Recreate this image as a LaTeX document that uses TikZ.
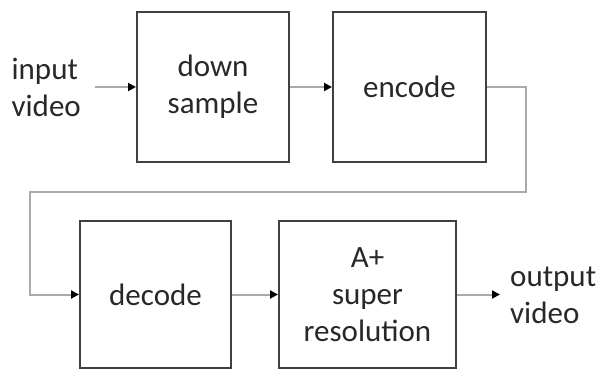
\documentclass[tikz,border=0pt]{standalone}
\usepackage{fontspec}
\setmainfont{Carlito}
\definecolor{boxgray}{RGB}{64, 64, 64}
\definecolor{linegray}{RGB}{170, 170, 170}
\definecolor{textgray}{RGB}{40, 40, 40}
\usetikzlibrary{arrows.meta,positioning,calc}

\begin{document}
\begin{tikzpicture}[x=1pt, y=1pt,
    font=\fontsize{31}{37}\selectfont, text=textgray,
    block/.style={rectangle, draw=boxgray, line width=2pt, align=center},
    flow/.style={-{Triangle[length=8pt, width=8pt, color=black]}, line width=2pt, color=linegray}]
    \useasboundingbox (0,0) rectangle (602,370);

    \node[block, minimum width=152pt, minimum height=150pt] (down) at (213,283) {down\\sample};
    \node[block, minimum width=153pt, minimum height=150pt, right=42pt of down] (encode) {encode};
    \node[block, minimum width=151pt, minimum height=147pt] (decode) at (155.5,75.5) {decode};
    \node[block, minimum width=177pt, minimum height=147pt, right=46pt of decode] (super) {A+\\super\\resolution};

    % Side texts
    \node[align=left, inner xsep=14pt, anchor=east] (input) at (95,283) {input\\video};
    \node[align=left, inner xsep=10pt, anchor=west, right=43pt of super, yshift=-1pt] (output) {output\\video};

    % Turning points of the loop
    \coordinate (turnR) at ($(encode.east)+(39,0)$);
    \coordinate (turnL) at (30,178);

    \draw[flow] (input) -- (down);
    \draw[flow] (down) -- (encode);
    \draw[flow] (encode.east) -- (turnR) |- (turnL) |- (decode.west);
    \draw[flow] (decode) -- (super);
    \draw[flow] (super.east) -- (super.east -| output.west);
\end{tikzpicture}
\end{document}
